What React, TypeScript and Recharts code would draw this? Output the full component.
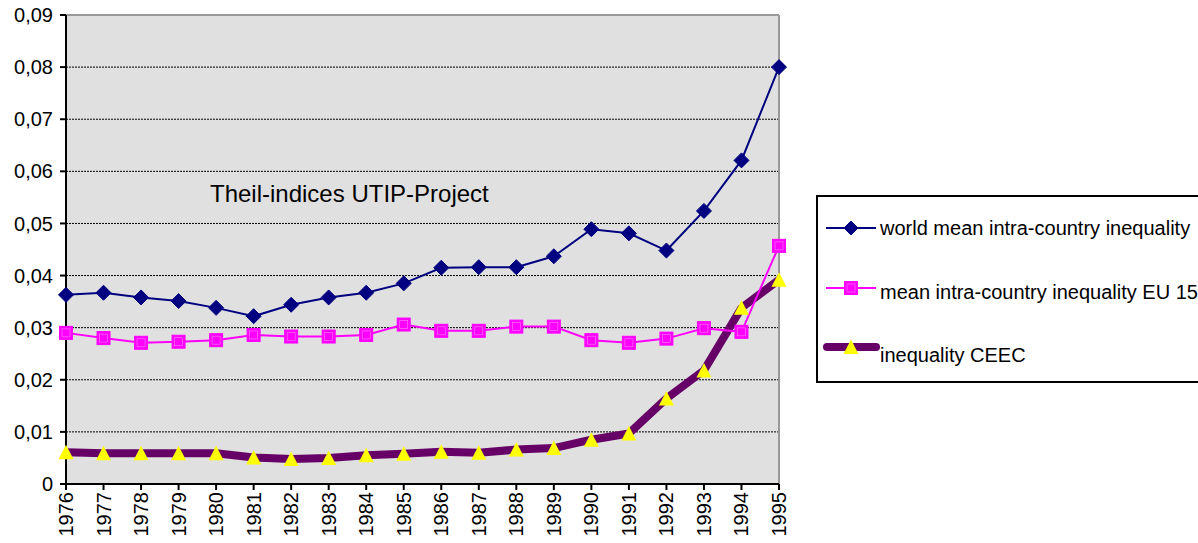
import { LineChart, Line, XAxis, YAxis, CartesianGrid, ReferenceLine, Legend } from 'recharts'

const years = ['1976', '1977', '1978', '1979', '1980', '1981', '1982', '1983', '1984', '1985', '1986', '1987', '1988', '1989', '1990', '1991', '1992', '1993', '1994', '1995']
const worldMean = [0.0363, 0.0367, 0.0358, 0.0351, 0.0338, 0.0322, 0.0344, 0.0358, 0.0367, 0.0385, 0.0415, 0.0416, 0.0416, 0.0437, 0.0489, 0.0481, 0.0448, 0.0524, 0.0621, 0.08]
const eu15Mean = [0.029, 0.028, 0.0271, 0.0273, 0.0276, 0.0286, 0.0283, 0.0283, 0.0286, 0.0306, 0.0294, 0.0294, 0.0302, 0.0302, 0.0276, 0.0271, 0.0279, 0.0299, 0.0292, 0.0457]
const ceec = [0.0061, 0.0059, 0.0059, 0.0059, 0.0059, 0.0051, 0.0048, 0.005, 0.0055, 0.0058, 0.0062, 0.006, 0.0066, 0.0069, 0.0085, 0.0097, 0.0164, 0.0218, 0.0338, 0.0392]
const yTicks = [0, 0.01, 0.02, 0.03, 0.04, 0.05, 0.06, 0.07, 0.08, 0.09]

const seriesNames = ['world mean intra-country inequality', 'mean intra-country inequality EU 15', 'inequality CEEC']
const title = 'Theil-indices UTIP-Project'

const data = years.map((y, i) => ({ year: y, world: worldMean[i], eu: eu15Mean[i], ceec: ceec[i] }))

const FONT = "'Liberation Sans', Arial, sans-serif"
const NAVY = '#000080'
const MAGENTA = '#ff00ff'
const PURPLE = '#660066'
const YELLOW = '#ffff00'

const fmtY = (v: number) => (v === 0 ? '0' : v.toFixed(2).replace('.', ','))

// recharts hands every dot an r prop, so the marker size lives in `half`
function Diamond({ cx, cy, half = 7.5 }: any) {
  if (cx == null || cy == null) return null
  const h = half
  return <polygon points={`${cx},${cy - h} ${cx + h},${cy} ${cx},${cy + h} ${cx - h},${cy}`} fill={NAVY} stroke={NAVY} strokeWidth={1} />
}

function Square({ cx, cy }: any) {
  if (cx == null || cy == null) return null
  return (
    <g>
      <rect x={cx - 6.5} y={cy - 6.5} width={13} height={13} fill={MAGENTA} stroke={MAGENTA} strokeWidth={1} />
      <rect x={cx - 4} y={cy - 4} width={8} height={8} fill="none" stroke="#ff7fff" strokeWidth={0.6} />
    </g>
  )
}

function Triangle({ cx, cy }: any) {
  if (cx == null || cy == null) return null
  return <polygon points={`${cx},${cy - 7.5} ${cx + 7.5},${cy + 7} ${cx - 7.5},${cy + 7}`} fill={YELLOW} />
}

function XTick({ x, y, payload }: any) {
  return (
    <text x={x} y={y} dy="0.35em" transform={`rotate(-90 ${x} ${y})`} textAnchor="end" fontSize={20} fontFamily={FONT} fill="#000">
      {payload.value}
    </text>
  )
}

function LegendBox() {
  return (
    <svg width={390} height={188} style={{ display: 'block' }}>
      <rect x={1} y={1} width={400} height={186} fill="#fff" stroke="#000" strokeWidth={2} />
      <line x1={10} x2={60} y1={33} y2={33} stroke={NAVY} strokeWidth={2} />
      <Diamond cx={35} cy={33} half={7} />
      <text x={64} y={40} fontSize={20} fontFamily={FONT} fill="#000">{seriesNames[0]}</text>
      <line x1={10} x2={60} y1={93} y2={93} stroke={MAGENTA} strokeWidth={2} />
      <Square cx={35} cy={93} />
      <text x={64} y={104} fontSize={20} fontFamily={FONT} fill="#000">{seriesNames[1]}</text>
      <line x1={11} x2={60} y1={152} y2={152} stroke={PURPLE} strokeWidth={8} strokeLinecap="round" />
      <Triangle cx={35} cy={152} />
      <text x={64} y={167} fontSize={20} fontFamily={FONT} fill="#000">{seriesNames[2]}</text>
    </svg>
  )
}

export default function App() {
  return (
    <div style={{ position: 'absolute', left: 0, top: 0, width: 1198, height: 543, overflow: 'hidden', background: '#fff' }}>
      <LineChart width={1198} height={543} data={data} margin={{ top: 15, right: 419, bottom: 0, left: 0 }}>
        <CartesianGrid vertical={false} stroke="#000" strokeDasharray="2 1" fill="#e0e0e0" fillOpacity={1} />
        <ReferenceLine y={0.09} stroke="#999" strokeWidth={2} />
        <ReferenceLine x="1995" stroke="#999" strokeWidth={2} />
        <XAxis
          dataKey="year"
          interval={0}
          height={59}
          tickSize={6}
          tick={<XTick />}
          axisLine={{ stroke: '#000', strokeWidth: 2 }}
          tickLine={{ stroke: '#000', strokeWidth: 2 }}
        />
        <YAxis
          width={66}
          domain={[0, 0.09]}
          ticks={yTicks}
          tickFormatter={fmtY}
          tickSize={6}
          tickMargin={7}
          interval={0}
          tick={{ fill: '#000', fontSize: 20, fontFamily: FONT }}
          axisLine={{ stroke: '#000', strokeWidth: 2 }}
          tickLine={{ stroke: '#000', strokeWidth: 2 }}
        />
        <Line dataKey="ceec" name={seriesNames[2]} stroke={PURPLE} strokeWidth={8} strokeLinejoin="round" dot={<Triangle />} activeDot={false} isAnimationActive={false} />
        <Line dataKey="eu" name={seriesNames[1]} stroke={MAGENTA} strokeWidth={2} dot={<Square />} activeDot={false} isAnimationActive={false} />
        <Line dataKey="world" name={seriesNames[0]} stroke={NAVY} strokeWidth={2} dot={<Diamond />} activeDot={false} isAnimationActive={false} />
        <Legend
          layout="horizontal"
          align="center"
          verticalAlign="middle"
          wrapperStyle={{ left: 816, top: 195, width: 390, height: 188 }}
          content={() => <LegendBox />}
        />
      </LineChart>
      <svg width={1198} height={543} style={{ position: 'absolute', left: 0, top: 0, pointerEvents: 'none' }}>
        <text x={210} y={202} fontSize={24} fontFamily={FONT} fill="#000">{title}</text>
      </svg>
    </div>
  )
}
